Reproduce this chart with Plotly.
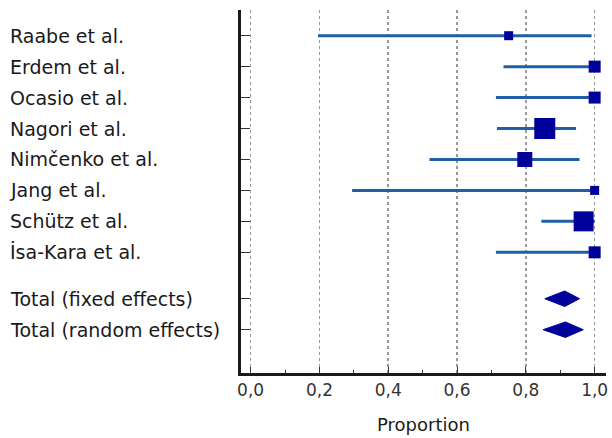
import plotly.graph_objects as go

studies = ["Raabe et al.", "Erdem et al.", "Ocasio et al.", "Nagori et al.",
           "Nimčenko et al.", "Jang et al.", "Schütz et al.", "İsa-Kara et al."]
study_rows = [1, 2, 3, 4, 5, 6, 7, 8]
est = [0.75, 1.00, 1.00, 0.855, 0.797, 1.00, 0.968, 1.00]
lo = [0.196, 0.735, 0.713, 0.716, 0.52, 0.295, 0.845, 0.713]
hi = [0.991, 1.00, 1.00, 0.946, 0.956, 1.00, 1.00, 1.00]
weights = [9, 12, 12, 21, 15, 9, 20, 12]  # marker size reflects study weight

pooled_labels = ["Total (fixed effects)", "Total (random effects)"]
pooled_rows = [9.5, 10.5]
pooled_est = [0.913, 0.915]
pooled_lo = [0.855, 0.850]
pooled_hi = [0.956, 0.967]

xticks = [0.0, 0.2, 0.4, 0.6, 0.8, 1.0]

LINE_C = "#1f5fa6"
MARK_C = "#00009a"
FONT = "DejaVu Sans"

fig = go.Figure()

fig.add_trace(go.Scatter(
    x=est, y=study_rows, mode="markers",
    marker=dict(symbol="square", size=weights, color=MARK_C, opacity=1, line=dict(width=0)),
    error_x=dict(type="data", symmetric=False,
                 array=[h - e for h, e in zip(hi, est)],
                 arrayminus=[e - l for e, l in zip(est, lo)],
                 color=LINE_C, thickness=3, width=0),
    showlegend=False, hoverinfo="skip"))

half_h = 0.25
for r, e, l, h in zip(pooled_rows, pooled_est, pooled_lo, pooled_hi):
    fig.add_trace(go.Scatter(
        x=[l, e, h, e, l], y=[r, r - half_h, r, r + half_h, r],
        mode="lines", fill="toself", fillcolor=MARK_C,
        line=dict(color=MARK_C, width=1), showlegend=False, hoverinfo="skip"))

for name, r in zip(studies + pooled_labels, study_rows + pooled_rows):
    fig.add_annotation(text=name, x=-0.637, xref="paper", y=r, yref="y",
                       xanchor="left", yanchor="middle", showarrow=False,
                       font=dict(family=FONT, size=19, color="#1a1a1a"))

fig.update_layout(
    width=612, height=438,
    margin=dict(l=241, r=4, t=10, b=65),
    paper_bgcolor="white", plot_bgcolor="white",
    separators=",.",
    font=dict(family=FONT, size=18, color="#333333"),
)
fig.update_xaxes(
    range=[-0.028, 1.033], tickvals=xticks, tickformat=".1f",
    showgrid=True, gridcolor="#999999", griddash="dot", gridwidth=1.5,
    zeroline=False, showline=True, linecolor="#1a1a1a", linewidth=3,
    ticks="inside", ticklen=6, tickcolor="#333333", tickwidth=1,
    minor=dict(dtick=0.1, ticks="inside", ticklen=3, tickcolor="#333333", showgrid=False),
    tickfont=dict(family=FONT, size=17, color="#333333"),
    title=dict(text="Proportion", font=dict(family=FONT, size=18, color="#1a1a1a"), standoff=19),
)
fig.update_yaxes(
    range=[11.9, 0.17], tickvals=study_rows + pooled_rows, showticklabels=False,
    showgrid=False, zeroline=False, showline=True, linecolor="#1a1a1a", linewidth=3,
    ticks="inside", ticklen=9, tickcolor="#333333", tickwidth=1,
)

fig.write_html(
    "out.html",
    config={"displayModeBar": False, "staticPlot": True},
    post_script="document.body.style.margin='0';"
                "document.documentElement.style.overflow='hidden';"
                "document.body.style.overflow='hidden';",
)
